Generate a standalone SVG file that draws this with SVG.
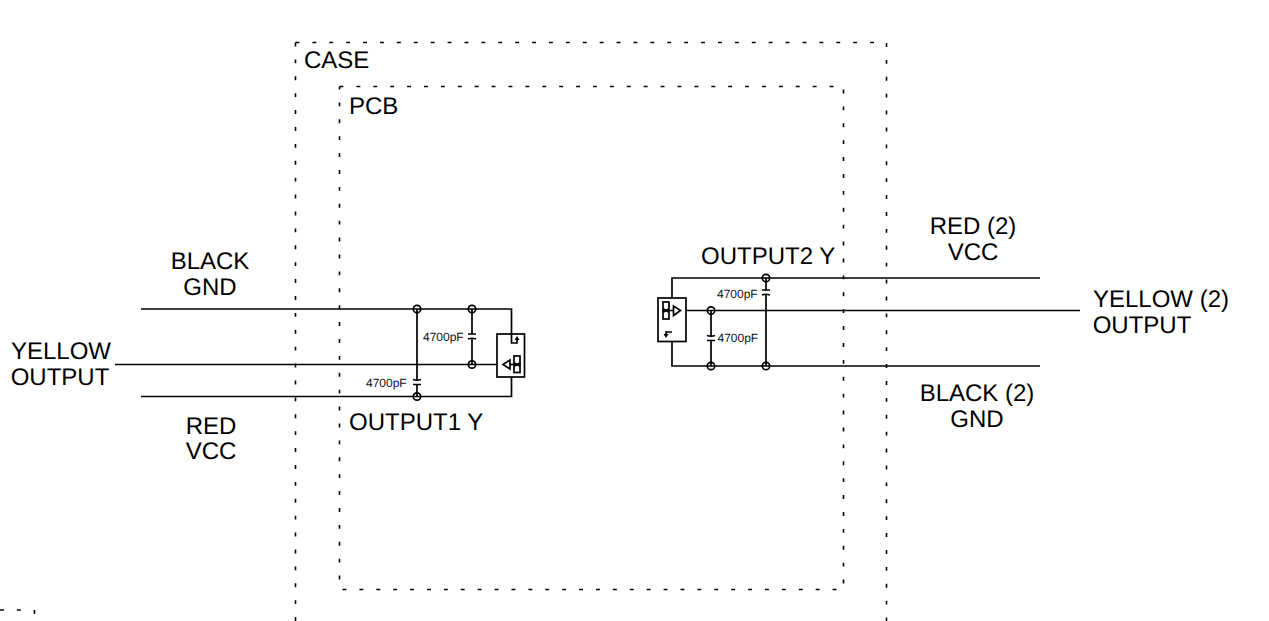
<svg xmlns="http://www.w3.org/2000/svg" width="1269" height="621" viewBox="0 0 1269 621">
<style>
text{font-family:"Liberation Sans",Arial,sans-serif;fill:#000;text-rendering:geometricPrecision}
.l{font-size:24px;text-anchor:middle}
.t{font-size:24px}
.s{font-size:12px;fill:#111}
.w{fill:none;stroke:#000;stroke-width:1.7}
.n{fill:none;stroke:#000;stroke-width:1.2}
.h{fill:#000;stroke:none}
.d{fill:none;stroke:#000;stroke-width:1.6;stroke-dasharray:3.9 13}
</style>
<defs>
<circle id="dot" r="3.7" class="w"/>
</defs>
<rect width="1269" height="621" fill="#fff"/>
<g id="case"><path class="d" d="M295.500 42.500H886.500V621M295.500 42.500V621"/><text class="t" x="304" y="68">CASE</text></g>
<g id="pcb"><path class="d" d="M339.500 86.500H843.500V589.500H339.500V86.500"/><text class="t" x="349" y="114">PCB</text></g>
<g id="fragment"><path class="d" d="M0 610H34"/><path class="d" d="M34.500 610V621"/></g>
<g id="connectors">
<path class="w" d="M141 309H511.500V343H517V339M115 364.500H497M141 396.500H511.500V377"/>
<path class="w" d="M417 309V380M417 384.500V396.500M472 309V334M472 339V364.500"/>
<path class="w" d="M672 298V278H1040M686 310.500H1080M672 332H666V336M672 341V366H1040"/>
<path class="w" d="M711 310.500V336M711 340.500V366M766 278V290M766 295V366"/>
</g>
<g id="cap1" transform="translate(417 382)"><path class="w" d="M-4 -2.500Q0 -1 4 -2.500M-4 2.500H4"/></g>
<g id="cap2" transform="translate(472 336.500)"><path class="w" d="M-4 -2.500H4M-4 2.500Q0 1 4 2.500"/></g>
<g id="cap3" transform="translate(711 338)"><path class="w" d="M-4 -2.500Q0 -1 4 -2.500M-4 2.500H4"/></g>
<g id="cap4" transform="translate(766 292.500)"><path class="w" d="M-4 -2.500H4M-4 2.500Q0 1 4 2.500"/></g>
<g id="dots">
<use href="#dot" x="417" y="309"/><use href="#dot" x="472" y="309"/><use href="#dot" x="472" y="364.500"/><use href="#dot" x="417" y="396.500"/>
<use href="#dot" x="766" y="278"/><use href="#dot" x="711" y="310.500"/><use href="#dot" x="711" y="366"/><use href="#dot" x="766" y="366"/>
</g>
<g id="sensor1">
<rect x="497" y="334" width="27.500" height="43" class="w"/>
<path class="h" d="M517 336L519.500 340H514.500Z"/>
<path class="w" d="M503 364.500L510 360V369Z"/>
<path class="w" d="M510 364.500H514"/>
<rect x="514" y="356" width="6" height="8.500" class="w"/><rect x="514" y="364.500" width="6" height="8" class="w"/>
<path class="n" d="M514.500 362.500L519.500 366.500M519.500 362.500L514.500 366.500"/>
</g>
<g id="sensor2">
<rect x="658" y="298" width="28" height="43.500" class="w"/>
<rect x="663" y="302" width="6" height="8.500" class="w"/><rect x="663" y="310.500" width="6" height="8.500" class="w"/>
<path class="n" d="M663.500 308.500L668.500 312.500M668.500 308.500L663.500 312.500"/>
<path class="w" d="M669 310.500H673M673.500 306V315.500L680.500 310.500Z"/>
<path class="h" d="M666 338L663.500 334H668.500Z"/>
</g>
<g id="labels">
<text class="l" x="210" y="269">BLACK</text><text class="l" x="210" y="295">GND</text>
<text class="l" x="61" y="359">YELLOW</text><text class="l" x="60" y="385">OUTPUT</text>
<text class="l" x="211" y="434">RED</text><text class="l" x="211" y="459">VCC</text>
<text class="t" x="349" y="430">OUTPUT1 Y</text>
<text class="t" x="701" y="264">OUTPUT2 Y</text>
<text class="l" x="973" y="234">RED (2)</text><text class="l" x="973" y="260">VCC</text>
<text class="l" x="1161" y="307">YELLOW (2)</text><text class="l" x="1142" y="333">OUTPUT</text>
<text class="l" x="977" y="401">BLACK (2)</text><text class="l" x="977" y="427">GND</text>
<text class="s" x="423" y="341">4700pF</text>
<text class="s" x="366" y="387">4700pF</text>
<text class="s" x="717" y="298">4700pF</text>
<text class="s" x="717.500" y="341.500">4700pF</text>
</g>
</svg>
